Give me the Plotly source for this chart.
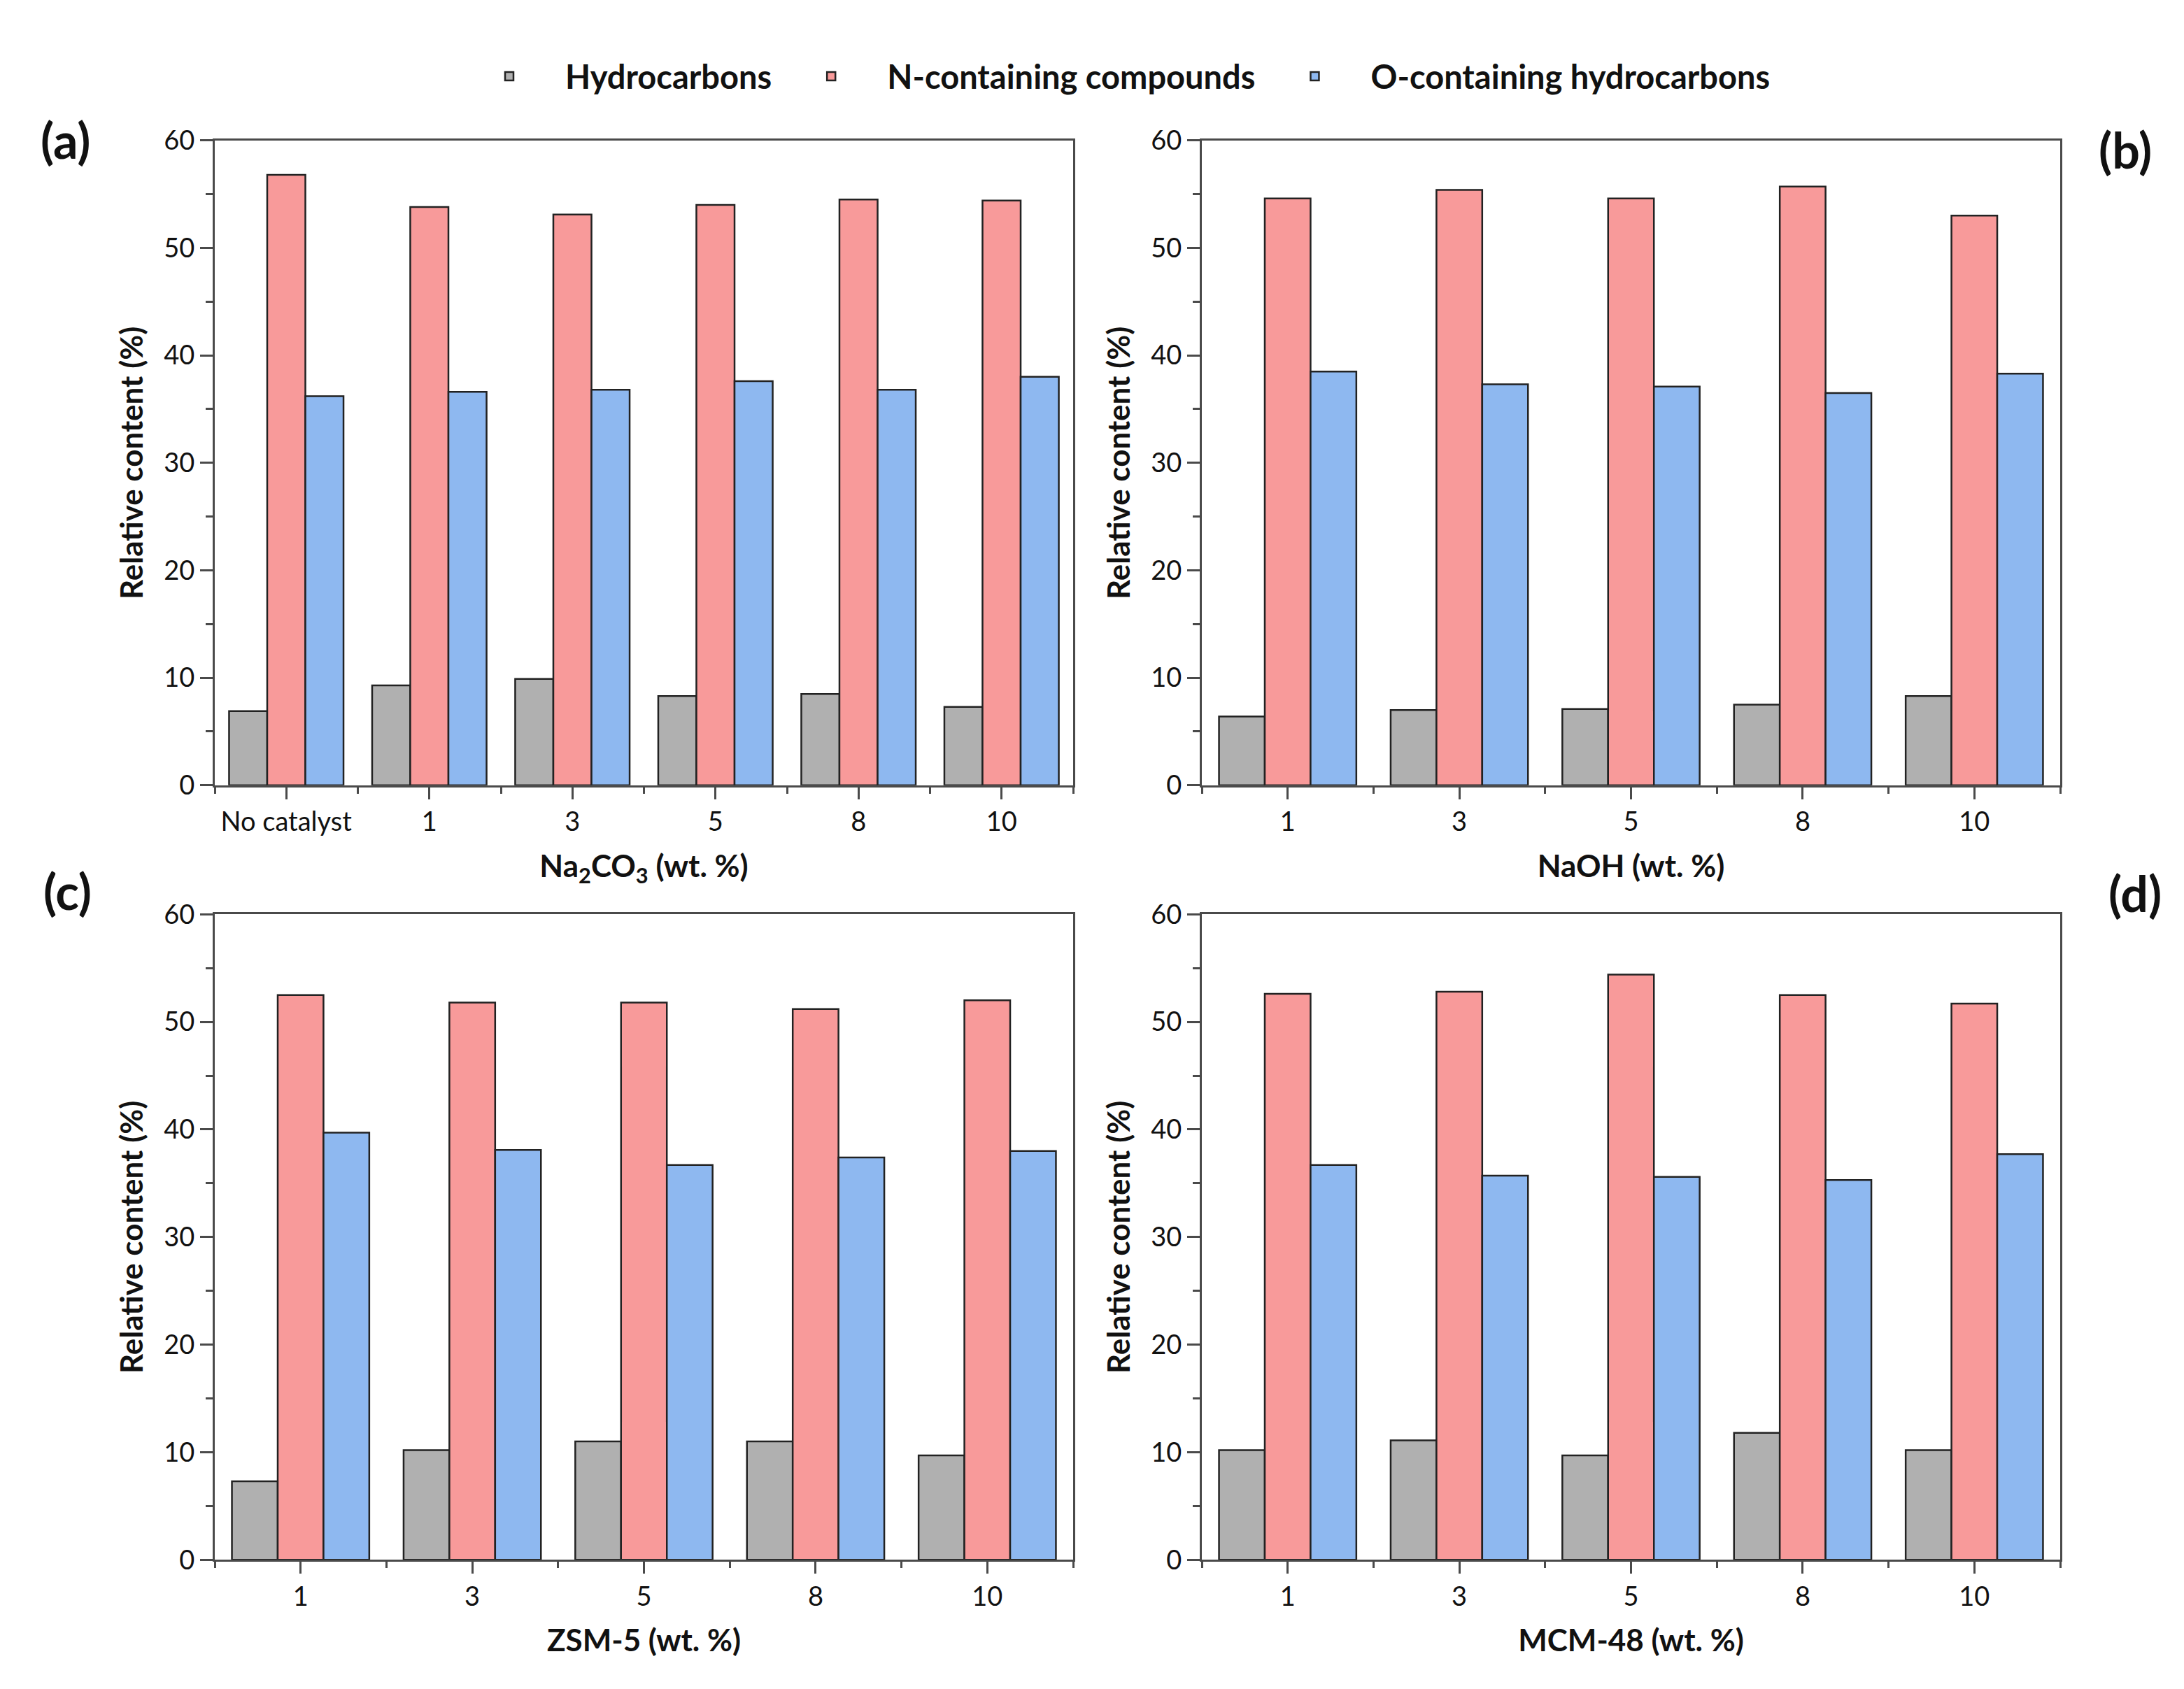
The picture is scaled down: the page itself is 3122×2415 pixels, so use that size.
import plotly.graph_objects as go

# ---- data ----
series_names = ["Hydrocarbons", "N-containing compounds", "O-containing hydrocarbons"]
series_colors = ["#B0B0B0", "#F89A9A", "#8EB8F0"]

cats_a = ["No catalyst", "1", "3", "5", "8", "10"]
hc_a = [6.9, 9.3, 9.9, 8.3, 8.5, 7.3]
n_a = [56.8, 53.8, 53.1, 54.0, 54.5, 54.4]
o_a = [36.2, 36.6, 36.8, 37.6, 36.8, 38.0]

cats_b = ["1", "3", "5", "8", "10"]
hc_b = [6.4, 7.0, 7.1, 7.5, 8.3]
n_b = [54.6, 55.4, 54.6, 55.7, 53.0]
o_b = [38.5, 37.3, 37.1, 36.5, 38.3]

cats_c = ["1", "3", "5", "8", "10"]
hc_c = [7.3, 10.2, 11.0, 11.0, 9.7]
n_c = [52.5, 51.8, 51.8, 51.2, 52.0]
o_c = [39.7, 38.1, 36.7, 37.4, 38.0]

cats_d = ["1", "3", "5", "8", "10"]
hc_d = [10.2, 11.1, 9.7, 11.8, 10.2]
n_d = [52.6, 52.8, 54.4, 52.5, 51.7]
o_d = [36.7, 35.7, 35.6, 35.3, 37.7]

x_titles = ["Na<sub>2</sub>CO<sub>3</sub> (wt. %)", "NaOH (wt. %)", "ZSM-5 (wt. %)", "MCM-48 (wt. %)"]
panel_labels = ["(a)", "(b)", "(c)", "(d)"]
y_ticks = [0, 10, 20, 30, 40, 50, 60]
y_title = "Relative content (%)"

panels = [
    (cats_a, [hc_a, n_a, o_a]),
    (cats_b, [hc_b, n_b, o_b]),
    (cats_c, [hc_c, n_c, o_c]),
    (cats_d, [hc_d, n_d, o_d]),
]

# ---- layout geometry ----
W, H = 3122, 2415
FONT = "Lato, Open Sans, sans-serif"
AX = "#4a4a4a"
x_domains = [[299 / W, 1526 / W], [1710 / W, 2937 / W]]
y_domains = [[1 - 1111 / H, 1 - 171 / H], [1 - 2240 / H, 1 - 1299 / H]]

fig = go.Figure()
layout = {}
for i, (cats, vals) in enumerate(panels):
    r, c = divmod(i, 2)
    xa = "x" if i == 0 else f"x{i+1}"
    ya = "y" if i == 0 else f"y{i+1}"
    xs = list(range(len(cats)))
    for s, (name, col, v) in enumerate(zip(series_names, series_colors, vals)):
        fig.add_trace(go.Bar(
            x=xs, y=v, name=name, xaxis=xa, yaxis=ya,
            marker=dict(color=col, line=dict(color="#222222", width=2.5)),
            offsetgroup=str(s), legendgroup=name, showlegend=(i == 0),
        ))
    key_x = "xaxis" if i == 0 else f"xaxis{i+1}"
    key_y = "yaxis" if i == 0 else f"yaxis{i+1}"
    layout[key_x] = dict(
        domain=x_domains[c], anchor=ya, range=[-0.5, len(cats) - 0.5],
        tickmode="array", tickvals=xs, ticktext=cats,
        ticks="outside", ticklen=17, tickwidth=3, tickcolor=AX,
        minor=dict(tickmode="linear", tick0=-0.5, dtick=1, ticks="outside",
                   ticklen=9, tickwidth=3, tickcolor=AX),
        showline=True, linewidth=3, linecolor=AX, mirror=True,
        showgrid=False, zeroline=False,
        tickfont=dict(family=FONT, size=38, color="#111"),
        title=dict(text=x_titles[i], standoff=28,
                   font=dict(family=FONT, size=44, color="#111", weight="bold")),
    )
    layout[key_y] = dict(
        domain=y_domains[r], anchor=xa, range=[0, 60],
        tickmode="array", tickvals=y_ticks,
        ticks="outside", ticklen=18, tickwidth=3, tickcolor=AX,
        minor=dict(tickmode="linear", tick0=0, dtick=5, ticks="outside",
                   ticklen=10, tickwidth=3, tickcolor=AX),
        showline=True, linewidth=3, linecolor=AX, mirror=True,
        showgrid=False, zeroline=False,
        tickfont=dict(family=FONT, size=38, color="#111"),
        title=dict(text=y_title, standoff=16,
                   font=dict(family=FONT, size=44, color="#111", weight="bold")),
    )

label_pos = [(85, 170), (3030, 185), (88, 1265), (3044, 1268)]
annotations = []
for lab, (px, py) in zip(panel_labels, label_pos):
    annotations.append(dict(
        text=lab, x=px / W, y=1 - py / H, xref="paper", yref="paper",
        showarrow=False, xanchor="center", yanchor="middle",
        font=dict(family=FONT, size=70, color="#111", weight="bold"),
    ))

fig.update_layout(
    **layout,
    width=W, height=H,
    margin=dict(l=0, r=0, t=0, b=0),
    paper_bgcolor="white", plot_bgcolor="white",
    barmode="group", bargap=0.2, bargroupgap=0,
    annotations=annotations,
    showlegend=True,
    legend=dict(orientation="h", x=1584 / W, y=1 - 78 / H, xanchor="center", yanchor="middle",
                font=dict(family=FONT, size=47, color="#111", weight="bold"),
                itemwidth=150, traceorder="normal", bgcolor="rgba(0,0,0,0)"),
)

fig.write_html("out.html")
